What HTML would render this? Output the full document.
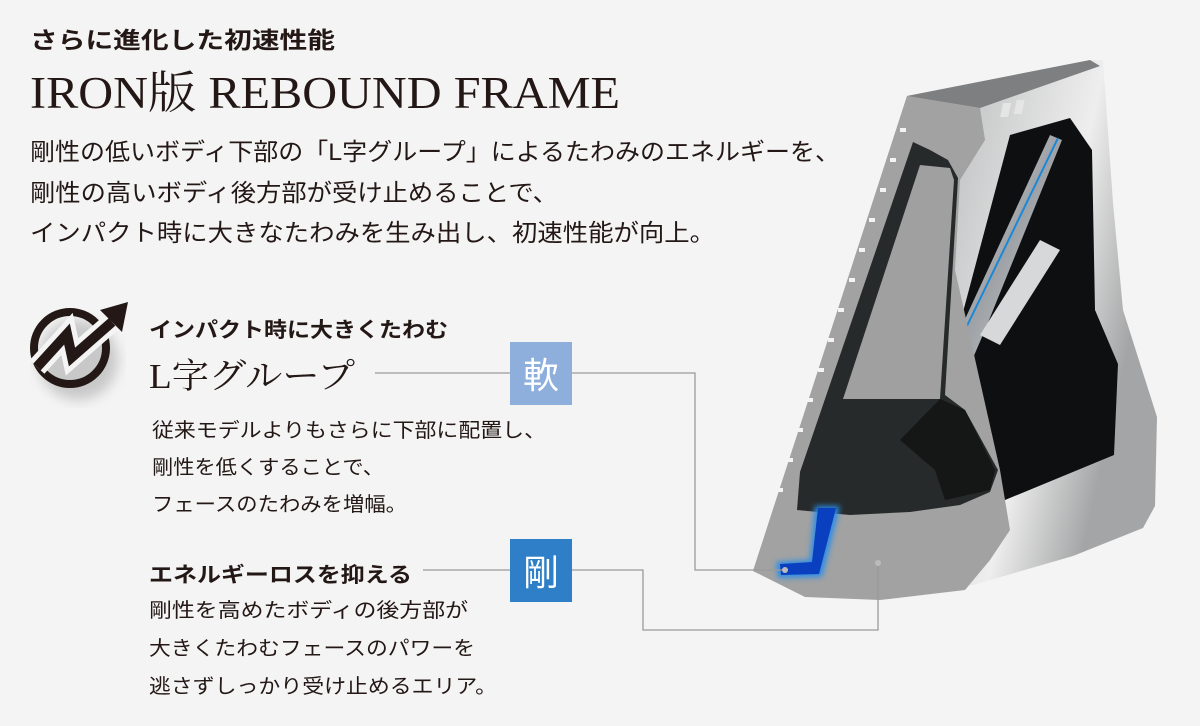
<!DOCTYPE html>
<html><head><meta charset="utf-8"><style>
html,body{margin:0;padding:0;background:#f4f4f4;}
svg{display:block}
.j{font-family:"Liberation Sans","Noto Sans CJK JP",sans-serif;fill:#231815}
.s{font-family:"Liberation Serif","Noto Serif CJK SC",serif;fill:#231815}
</style></head><body>
<svg width="1200" height="726" viewBox="0 0 1200 726" xmlns="http://www.w3.org/2000/svg">
<defs>
<linearGradient id="silver" x1="0" y1="0" x2="1" y2="0.3">
<stop offset="0" stop-color="#8d8f90"/><stop offset="0.5" stop-color="#c4c5c6"/><stop offset="0.8" stop-color="#eeeeee"/><stop offset="1" stop-color="#a4a5a6"/></linearGradient>
<linearGradient id="metal" x1="0" y1="0" x2="1" y2="1">
<stop offset="0" stop-color="#e8eaec"/><stop offset="0.5" stop-color="#9ea2a6"/><stop offset="1" stop-color="#dfe2e4"/></linearGradient>
<filter id="glow"><feGaussianBlur stdDeviation="3"/></filter>
<filter id="sh"><feGaussianBlur stdDeviation="6"/></filter>
</defs>
<rect width="1200" height="726" fill="#f4f4f4"/>

<g lengthAdjust="spacingAndGlyphs">
<text class="j" x="30" y="48" font-size="23" font-weight="bold" textLength="305" lengthAdjust="spacingAndGlyphs">さらに進化した初速性能</text>
<text class="s" x="30" y="108" font-size="45" textLength="590" lengthAdjust="spacingAndGlyphs">IRON版 REBOUND FRAME</text>
<text class="j" x="30" y="160" font-size="24" textLength="810" lengthAdjust="spacingAndGlyphs">剛性の低いボディ下部の「L字グループ」によるたわみのエネルギーを、</text>
<text class="j" x="30" y="201" font-size="24" textLength="528" lengthAdjust="spacingAndGlyphs">剛性の高いボディ後方部が受け止めることで、</text>
<text class="j" x="30" y="241" font-size="24" textLength="685" lengthAdjust="spacingAndGlyphs">インパクト時に大きなたわみを生み出し、初速性能が向上。</text>
</g>

<!-- Icon -->
<circle cx="78" cy="360" r="40" fill="#777" opacity="0.35" filter="url(#sh)"/>
<circle cx="70" cy="348" r="36" fill="none" stroke="#231815" stroke-width="8"/>
<polyline points="37,367 67,334 72,357 112,322" fill="none" stroke="#f4f4f4" stroke-width="20"/>
<polyline points="37,367 67,334 72,357 112,322" fill="none" stroke="#231815" stroke-width="10"/>
<polygon points="128,302 100,310 122,332" fill="#231815"/>

<text class="j" x="149" y="337" font-size="21" font-weight="bold" textLength="299" lengthAdjust="spacingAndGlyphs">インパクト時に大きくたわむ</text>
<text class="s" x="149" y="388" font-size="35" textLength="206" lengthAdjust="spacingAndGlyphs">L字グループ</text>
<text class="j" x="152" y="437" font-size="20" textLength="394" lengthAdjust="spacingAndGlyphs">従来モデルよりもさらに下部に配置し、</text>
<text class="j" x="152" y="474" font-size="20" textLength="232" lengthAdjust="spacingAndGlyphs">剛性を低くすることで、</text>
<text class="j" x="152" y="511" font-size="20" textLength="255" lengthAdjust="spacingAndGlyphs">フェースのたわみを増幅。</text>

<text class="j" x="149" y="582" font-size="21" font-weight="bold" textLength="263" lengthAdjust="spacingAndGlyphs">エネルギーロスを抑える</text>
<text class="j" x="149" y="617" font-size="20" textLength="319" lengthAdjust="spacingAndGlyphs">剛性を高めたボディの後方部が</text>
<text class="j" x="149" y="655" font-size="20" textLength="326" lengthAdjust="spacingAndGlyphs">大きくたわむフェースのパワーを</text>
<text class="j" x="149" y="693" font-size="20" textLength="348" lengthAdjust="spacingAndGlyphs">逃さずしっかり受け止めるエリア。</text>

<!-- Club -->
<polygon points="907,96 1090,60 1103,60 1113,203 1123,310 1157,417 1155,506 1143,528 1073,556 973,585 873,599 807,596 753,571" fill="url(#silver)"/>
<polygon points="907,96 1090,60 1100,66 980,108" fill="#7d7f80"/>
<polygon points="1010,135 1070,118 1092,150 1095,310 1118,364 1114,455 1005,500 975,470 945,380" fill="#0e0f10"/>
<polygon points="1050,135 1062,140 985,330 955,400 935,395 960,330" fill="url(#metal)"/>
<line x1="1058" y1="138" x2="965" y2="330" stroke="#1a88d8" stroke-width="2"/>
<polygon points="1040,240 1060,250 1000,345 980,335" fill="#d6d8da"/>
<polygon points="907,96 980,108 985,140 960,180 955,270 1000,470 1010,530 990,560 965,590 880,600 805,597 753,571" fill="#a2a2a2"/>
<polygon points="913,142 930,150 948,160 958,178 945,395 965,410 998,470 990,492 960,505 910,512 850,515 797,510 800,472" fill="#262a2a"/>
<polygon points="920,165 950,168 954,180 940,399 843,399" fill="#a0a0a0"/>
<polygon points="940,399 965,410 995,470 990,490 945,500 935,470 900,440" fill="#151616"/>
<g fill="#f4f4f4">
<rect x="900" y="128" width="6" height="4"/><rect x="890" y="158" width="6" height="4"/><rect x="880" y="188" width="6" height="4"/>
<rect x="869" y="218" width="6" height="4"/><rect x="859" y="248" width="6" height="4"/><rect x="849" y="278" width="6" height="4"/>
<rect x="838" y="308" width="6" height="4"/><rect x="828" y="338" width="6" height="4"/><rect x="818" y="368" width="6" height="4"/>
<rect x="807" y="398" width="6" height="4"/><rect x="797" y="428" width="6" height="4"/><rect x="787" y="458" width="6" height="4"/>
<rect x="777" y="488" width="6" height="4"/>
</g>
<rect x="1025" y="103" width="8" height="14" fill="#e5e5e5" transform="skewX(-12)"/>
<rect x="1038" y="100" width="8" height="14" fill="#e5e5e5" transform="skewX(-12)"/>
<polygon points="815,506 840,506 822,577 778,578 776,562 810,560" fill="#2b8de8" filter="url(#glow)"/>
<polygon points="818,508 836,508 819,574 781,575 780,564 812,562" fill="#0a3fbf"/>

<g stroke="#9a9a9a" stroke-width="1.3" fill="none">
<line x1="375" y1="373" x2="510" y2="373"/>
<polyline points="572,373 695,373 695,570 785,570"/>
<line x1="423" y1="570" x2="510" y2="570"/>
<polyline points="572,570 643,570 643,630 878,630 878,565"/>
</g>
<circle cx="785" cy="570" r="3" fill="#bbb"/>
<circle cx="878" cy="563" r="3" fill="#bbb"/>

<rect x="510" y="342" width="62" height="63" fill="#8eaedb"/>
<text x="541" y="388" font-size="36" text-anchor="middle" fill="#fff" font-family="'Liberation Sans','Noto Sans CJK JP',sans-serif">軟</text>
<rect x="510" y="539" width="62" height="63" fill="#2f7fc8"/>
<text x="541" y="585" font-size="36" text-anchor="middle" fill="#fff" font-family="'Liberation Sans','Noto Sans CJK JP',sans-serif">剛</text>
</svg>
</body></html>
